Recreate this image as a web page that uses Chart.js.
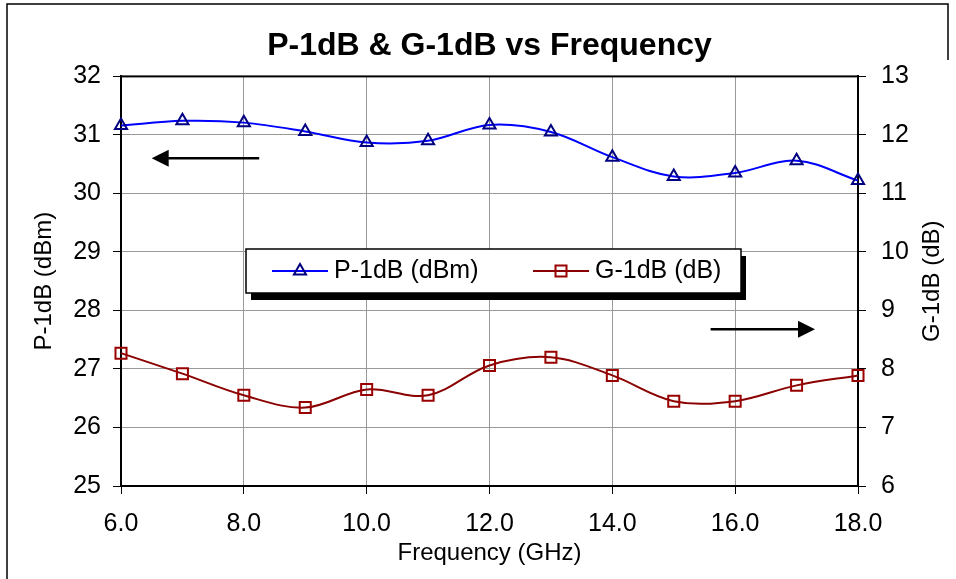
<!DOCTYPE html>
<html>
<head>
<meta charset="utf-8">
<script src="https://cdn.jsdelivr.net/npm/chart.js@4.4.0/dist/chart.umd.min.js"></script>
<style>
  html, body { margin: 0; padding: 0; background: #fff; }
  #wrap { width: 956px; height: 579px; position: relative; }
</style>
</head>
<body>
<div id="wrap"><canvas id="grafico" width="956" height="579"></canvas></div>
<script>
// dados
const frequencias = [6, 7, 8, 9, 10, 11, 12, 13, 14, 15, 16, 17, 18];
const p1dB = [31.16, 31.24, 31.21, 31.06, 30.87, 30.90, 31.17, 31.05, 30.62, 30.29, 30.35, 30.56, 30.22];
const g1dB = [8.27, 7.92, 7.55, 7.34, 7.65, 7.55, 8.06, 8.20, 7.89, 7.45, 7.45, 7.72, 7.89];
const ticksFreq = [6, 8, 10, 12, 14, 16, 18];
const ticksP = [25, 26, 27, 28, 29, 30, 31, 32];
const ticksG = [6, 7, 8, 9, 10, 11, 12, 13];
const tituloDireito = 'G-1dB (dB)';

const FONTE = "'Liberation Sans', Arial, sans-serif";

// setas indicando o eixo de cada curva (em unidades de dados)
const setas = [
  { de: 8.25, ate: 6.5, y: 30.6 },
  { de: 15.6, ate: 17.3, y: 27.68 }
];

function marcador(ctx, tipo, x, y, cor) {
  ctx.save();
  ctx.strokeStyle = cor;
  ctx.lineWidth = 2;
  ctx.beginPath();
  if (tipo === 'triangle') {
    const r = 7;
    ctx.moveTo(x, y - r);
    ctx.lineTo(x + r * 0.866, y + r * 0.5);
    ctx.lineTo(x - r * 0.866, y + r * 0.5);
    ctx.closePath();
  } else {
    ctx.rect(x - 5.5, y - 5.5, 11, 11);
  }
  ctx.stroke();
  ctx.restore();
}

const molduraPlugin = {
  id: 'moldura',
  beforeDraw(chart) {
    const ctx = chart.ctx;
    ctx.save();
    ctx.strokeStyle = '#000';
    ctx.lineWidth = 1.5;
    ctx.beginPath();
    ctx.moveTo(7, 580);
    ctx.lineTo(7, 4);
    ctx.lineTo(948, 4);
    ctx.lineTo(948, 60);
    ctx.stroke();
    ctx.restore();
  },
  beforeDatasetsDraw(chart) {
    const { ctx, chartArea: a } = chart;
    ctx.save();
    ctx.strokeStyle = '#000';
    ctx.lineWidth = 2;
    ctx.strokeRect(a.left, a.top, a.right - a.left, a.bottom - a.top);
    ctx.restore();
  },
  afterDatasetsDraw(chart) {
    const ctx = chart.ctx;
    const sx = chart.scales.x, sy = chart.scales.yP;
    ctx.save();
    ctx.strokeStyle = '#000';
    ctx.fillStyle = '#000';
    ctx.lineWidth = 2.5;
    setas.forEach(s => {
      const x1 = sx.getPixelForValue(s.de);
      const x2 = sx.getPixelForValue(s.ate);
      const y = sy.getPixelForValue(s.y);
      const dir = x2 > x1 ? 1 : -1;
      ctx.beginPath();
      ctx.moveTo(x1, y);
      ctx.lineTo(x2 - dir * 14, y);
      ctx.stroke();
      ctx.beginPath();
      ctx.moveTo(x2, y);
      ctx.lineTo(x2 - dir * 17, y - 8.5);
      ctx.lineTo(x2 - dir * 17, y + 8.5);
      ctx.closePath();
      ctx.fill();
    });
    ctx.restore();
  },
  afterDraw(chart) {
    const ctx = chart.ctx;
    const a = chart.chartArea;

    // título do eixo direito, lido de baixo para cima
    ctx.save();
    ctx.translate(932, (a.top + a.bottom) / 2);
    ctx.rotate(-Math.PI / 2);
    ctx.fillStyle = '#000';
    ctx.font = '24px ' + FONTE;
    ctx.textAlign = 'center';
    ctx.textBaseline = 'middle';
    ctx.fillText(tituloDireito, 0, 0);
    ctx.restore();

    // legenda com sombra
    const bx = 246, by = 249, bw = 495, bh = 44;
    ctx.save();
    ctx.fillStyle = '#000';
    ctx.fillRect(bx + 5, by + 7, bw, bh);
    ctx.fillStyle = '#fff';
    ctx.fillRect(bx, by, bw, bh);
    ctx.strokeStyle = '#000';
    ctx.lineWidth = 1.5;
    ctx.strokeRect(bx, by, bw, bh);
    const itens = [
      { x: 272, ds: chart.data.datasets[0], tipo: 'triangle' },
      { x: 533, ds: chart.data.datasets[1], tipo: 'rect' }
    ];
    const yc = by + bh / 2;
    itens.forEach(it => {
      ctx.strokeStyle = it.ds.borderColor;
      ctx.lineWidth = 2;
      ctx.beginPath();
      ctx.moveTo(it.x, yc);
      ctx.lineTo(it.x + 56, yc);
      ctx.stroke();
      marcador(ctx, it.tipo, it.x + 28, yc, it.ds.pointBorderColor);
      ctx.fillStyle = '#000';
      ctx.font = '25px ' + FONTE;
      ctx.textBaseline = 'middle';
      ctx.fillText(it.ds.label, it.x + 62, yc);
    });
    ctx.restore();
  }
};

const ctx = document.getElementById('grafico').getContext('2d');
const grafico = new Chart(ctx, {
  type: 'line',
  data: {
    datasets: [{
      label: 'P-1dB (dBm)',
      data: frequencias.map((f, i) => ({ x: f, y: p1dB[i] })),
      yAxisID: 'yP',
      borderColor: '#0000ff',
      borderWidth: 2,
      pointStyle: 'triangle',
      pointRadius: 7,
      pointBorderColor: '#000080',
      pointBackgroundColor: 'rgba(0,0,0,0)',
      pointBorderWidth: 2,
      tension: 0.35,
      fill: false,
      clip: false
    }, {
      label: 'G-1dB (dB)',
      data: frequencias.map((f, i) => ({ x: f, y: g1dB[i] })),
      yAxisID: 'yG',
      borderColor: '#8b0000',
      borderWidth: 2,
      pointStyle: 'rect',
      pointRadius: 7.8,
      pointBorderColor: '#990000',
      pointBackgroundColor: 'rgba(0,0,0,0)',
      pointBorderWidth: 2,
      tension: 0.35,
      fill: false,
      clip: false
    }]
  },
  options: {
    responsive: false,
    animation: false,
    devicePixelRatio: 1,
    layout: { padding: 0 },
    plugins: {
      legend: { display: false },
      tooltip: { enabled: false },
      title: {
        display: true,
        fullSize: false,
        text: 'P-1dB & G-1dB vs Frequency',
        color: '#000',
        font: { family: FONTE, size: 32, weight: 'bold' },
        padding: { top: 27, bottom: 11 }
      }
    },
    scales: {
      x: {
        type: 'linear',
        min: 6, max: 18,
        afterFit: s => { s.height = 93; },
        afterBuildTicks: s => { s.ticks = ticksFreq.map(v => ({ value: v })); },
        ticks: {
          color: '#000',
          font: { family: FONTE, size: 25 },
          padding: 15,
          maxRotation: 0,
          callback: v => Number(v).toFixed(1)
        },
        grid: { color: '#999', lineWidth: 1, tickColor: '#000', tickLength: 8 },
        border: { display: true, color: '#000', width: 2 },
        title: {
          display: true,
          text: 'Frequency (GHz)',
          color: '#000',
          font: { family: FONTE, size: 24 },
          padding: { top: 0, bottom: 11 }
        }
      },
      yP: {
        position: 'left',
        min: 25, max: 32,
        afterFit: s => { s.width = 121; },
        afterBuildTicks: s => { s.ticks = ticksP.map(v => ({ value: v })); },
        ticks: { color: '#000', font: { family: FONTE, size: 25 }, padding: 12 },
        grid: { color: '#999', lineWidth: 1, tickColor: '#000', tickLength: 8 },
        border: { display: true, color: '#000', width: 2 },
        title: {
          display: true,
          text: 'P-1dB (dBm)',
          color: '#000',
          font: { family: FONTE, size: 24 },
          padding: { top: 30, bottom: 0 }
        }
      },
      yG: {
        position: 'right',
        min: 6, max: 13,
        afterFit: s => { s.width = 98; },
        afterBuildTicks: s => { s.ticks = ticksG.map(v => ({ value: v })); },
        ticks: { color: '#000', font: { family: FONTE, size: 25 }, padding: 15 },
        grid: { drawOnChartArea: false, tickColor: '#000', tickLength: 8 },
        border: { display: true, color: '#000', width: 2 },
        title: { display: false }
      }
    }
  },
  plugins: [molduraPlugin]
});
</script>
</body>
</html>
